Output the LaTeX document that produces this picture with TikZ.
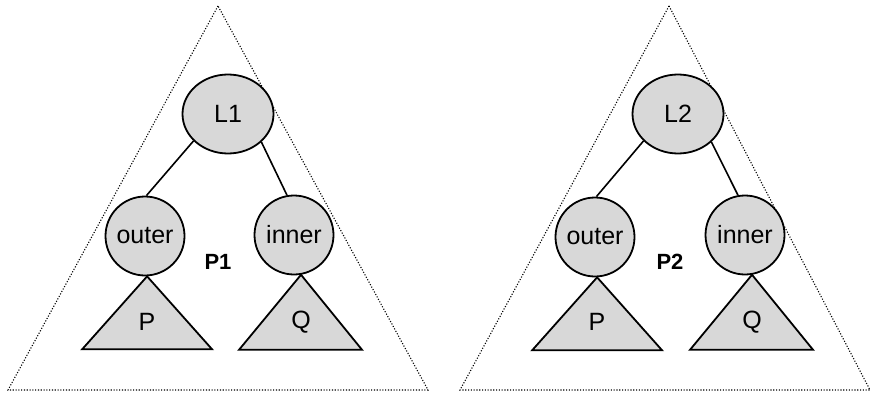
\documentclass[tikz,border=0pt]{standalone}
\usepackage{fontspec}
\setmainfont{Liberation Sans}
\usetikzlibrary{shapes.geometric}

\begin{document}
\begin{tikzpicture}[x=1pt,y=-1pt,
  knoten/.style={draw,line width=1.8pt,fill=knotgrau,circle,inner sep=0pt,
    minimum size=79pt,font=\fontsize{25pt}{29pt}\selectfont},
  wurzel/.style={knoten,ellipse,minimum width=91pt,minimum height=79pt},
  baum/.style={draw,line width=1.8pt,fill=knotgrau,line join=miter},
  kante/.style={line width=1.6pt},
  rand/.style={line width=1.1pt,dash pattern=on 1.1pt off 1.7pt},
  beschr/.style={font=\fontsize{25pt}{29pt}\selectfont},
  titel/.style={font=\fontsize{22pt}{26pt}\selectfont\bfseries}]

\definecolor{knotgrau}{RGB}{216,216,216};

\useasboundingbox (0,0) rectangle (874,393);

% left tree
\draw[rand] (218,6) -- (8,390) -- (428,390) -- cycle;

\node[wurzel] (L1) at (228,114) {L1};
\node[knoten] (out1) at (145,236) {outer};
\node[knoten] (in1) at (294,235) {inner};

\draw[kante] (L1.218) -- (out1.88);
\draw[kante] (L1.320) -- (in1.100);

\draw[baum] (out1.-87) -- ++(-65,73) -- ++(130,0) -- cycle;
\draw[baum] (in1.-80) -- ++(-62,75) -- ++(123,0) -- cycle;

\node[beschr] (P1) at (147,322) {P};
\node[beschr] (Q1) at (301,322) {Q};
\node[titel] (T1) at (218,262) {P1};

% right tree
\draw[rand] (669,6) -- (460,390) -- (870,390) -- cycle;

\node[wurzel] (L2) at (678,114) {L2};
\node[knoten] (out2) at (595,237) {outer};
\node[knoten] (in2) at (745,235) {inner};

\draw[kante] (L2.218) -- (out2.88);
\draw[kante] (L2.320) -- (in2.100);

\draw[baum] (out2.-87) -- ++(-65,73) -- ++(130,0) -- cycle;
\draw[baum] (in2.-80) -- ++(-62,75) -- ++(123,0) -- cycle;

\node[beschr] (P2) at (597,322) {P};
\node[beschr] (Q2) at (752,322) {Q};
\node[titel] (T2) at (670,262) {P2};

\end{tikzpicture}
\end{document}
